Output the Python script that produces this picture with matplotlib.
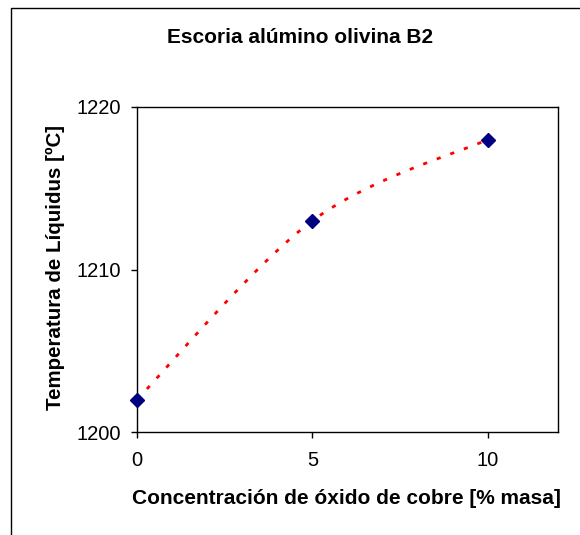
import numpy as np
import matplotlib
matplotlib.use("Agg")
import matplotlib.pyplot as plt
from matplotlib.patches import Rectangle

x_vals = [0, 5, 10]
y_vals = [1202, 1213, 1218]
x_ticks = [0, 5, 10]
y_ticks = [1200, 1210, 1220]
title = "Escoria alúmino olivina B2"
xlabel = "Concentración de óxido de cobre [% masa]"
ylabel = "Temperatura de Líquidus [ºC]"

plt.rcParams['font.family'] = ['Liberation Sans', 'DejaVu Sans']

W, H = 580, 535
fig = plt.figure(figsize=(W / 100, H / 100), dpi=100)
fig.patch.set_facecolor('white')

# outer frame (only top and left edges fall inside the image)
fig.add_artist(Rectangle((10.5 / W, -0.05), 1.0, (H - 8) / H + 0.05,
                         transform=fig.transFigure, fill=False, edgecolor='black', lw=1.0))

L, R, T, B = 137, 558, 107, 432
ax = fig.add_axes([L / W, (H - B) / H, (R - L) / W, (B - T) / H])


def excel_smooth(xs, ys, n=60):
    P = np.column_stack([xs, ys]).astype(float)
    pts = []
    for i in range(len(P) - 1):
        p0 = P[i - 1] if i > 0 else P[i]
        p1, p2 = P[i], P[i + 1]
        p3 = P[i + 2] if i + 2 < len(P) else P[i + 1]
        c1 = p1 + (p2 - p0) / 6
        c2 = p2 - (p3 - p1) / 6
        t = np.linspace(0, 1, n)[:, None]
        seg = (1 - t) ** 3 * p1 + 3 * (1 - t) ** 2 * t * c1 + 3 * (1 - t) * t ** 2 * c2 + t ** 3 * p2
        pts.append(seg if i == 0 else seg[1:])
    pts = np.vstack(pts)
    return pts[:, 0], pts[:, 1]


sx, sy = excel_smooth(x_vals, y_vals)
ax.plot(sx, sy, color='#FF0000', lw=2.0, linestyle=(0, (1.5, 3.7)), zorder=2)
ax.plot(x_vals, y_vals, linestyle='none', marker='D', markersize=7.4,
        color='#000080', markeredgecolor='#000080', zorder=3, clip_on=False)

ax.set_xlim(0, 12)
ax.set_ylim(1200, 1220)
ax.set_xticks(x_ticks)
ax.set_yticks(y_ticks)
ax.tick_params(direction='out', length=4.5, width=1, labelsize=14.5, colors='black')
ax.tick_params(axis='x', pad=9)
ax.tick_params(axis='y', pad=7)
for s in ax.spines.values():
    s.set_linewidth(1.0)
    s.set_color('black')

fig.text(300 / W, 1 - 43 / H, title, ha='center', va='baseline', fontsize=15, fontweight='bold')
fig.text(346.5 / W, 1 - 504 / H, xlabel, ha='center', va='baseline', fontsize=15, fontweight='bold')
fig.text(55 / W, 1 - 268 / H, ylabel, ha='center', va='center', rotation=90, fontsize=14.8, fontweight='bold')

fig.savefig('out.png', dpi=100, facecolor='white')
